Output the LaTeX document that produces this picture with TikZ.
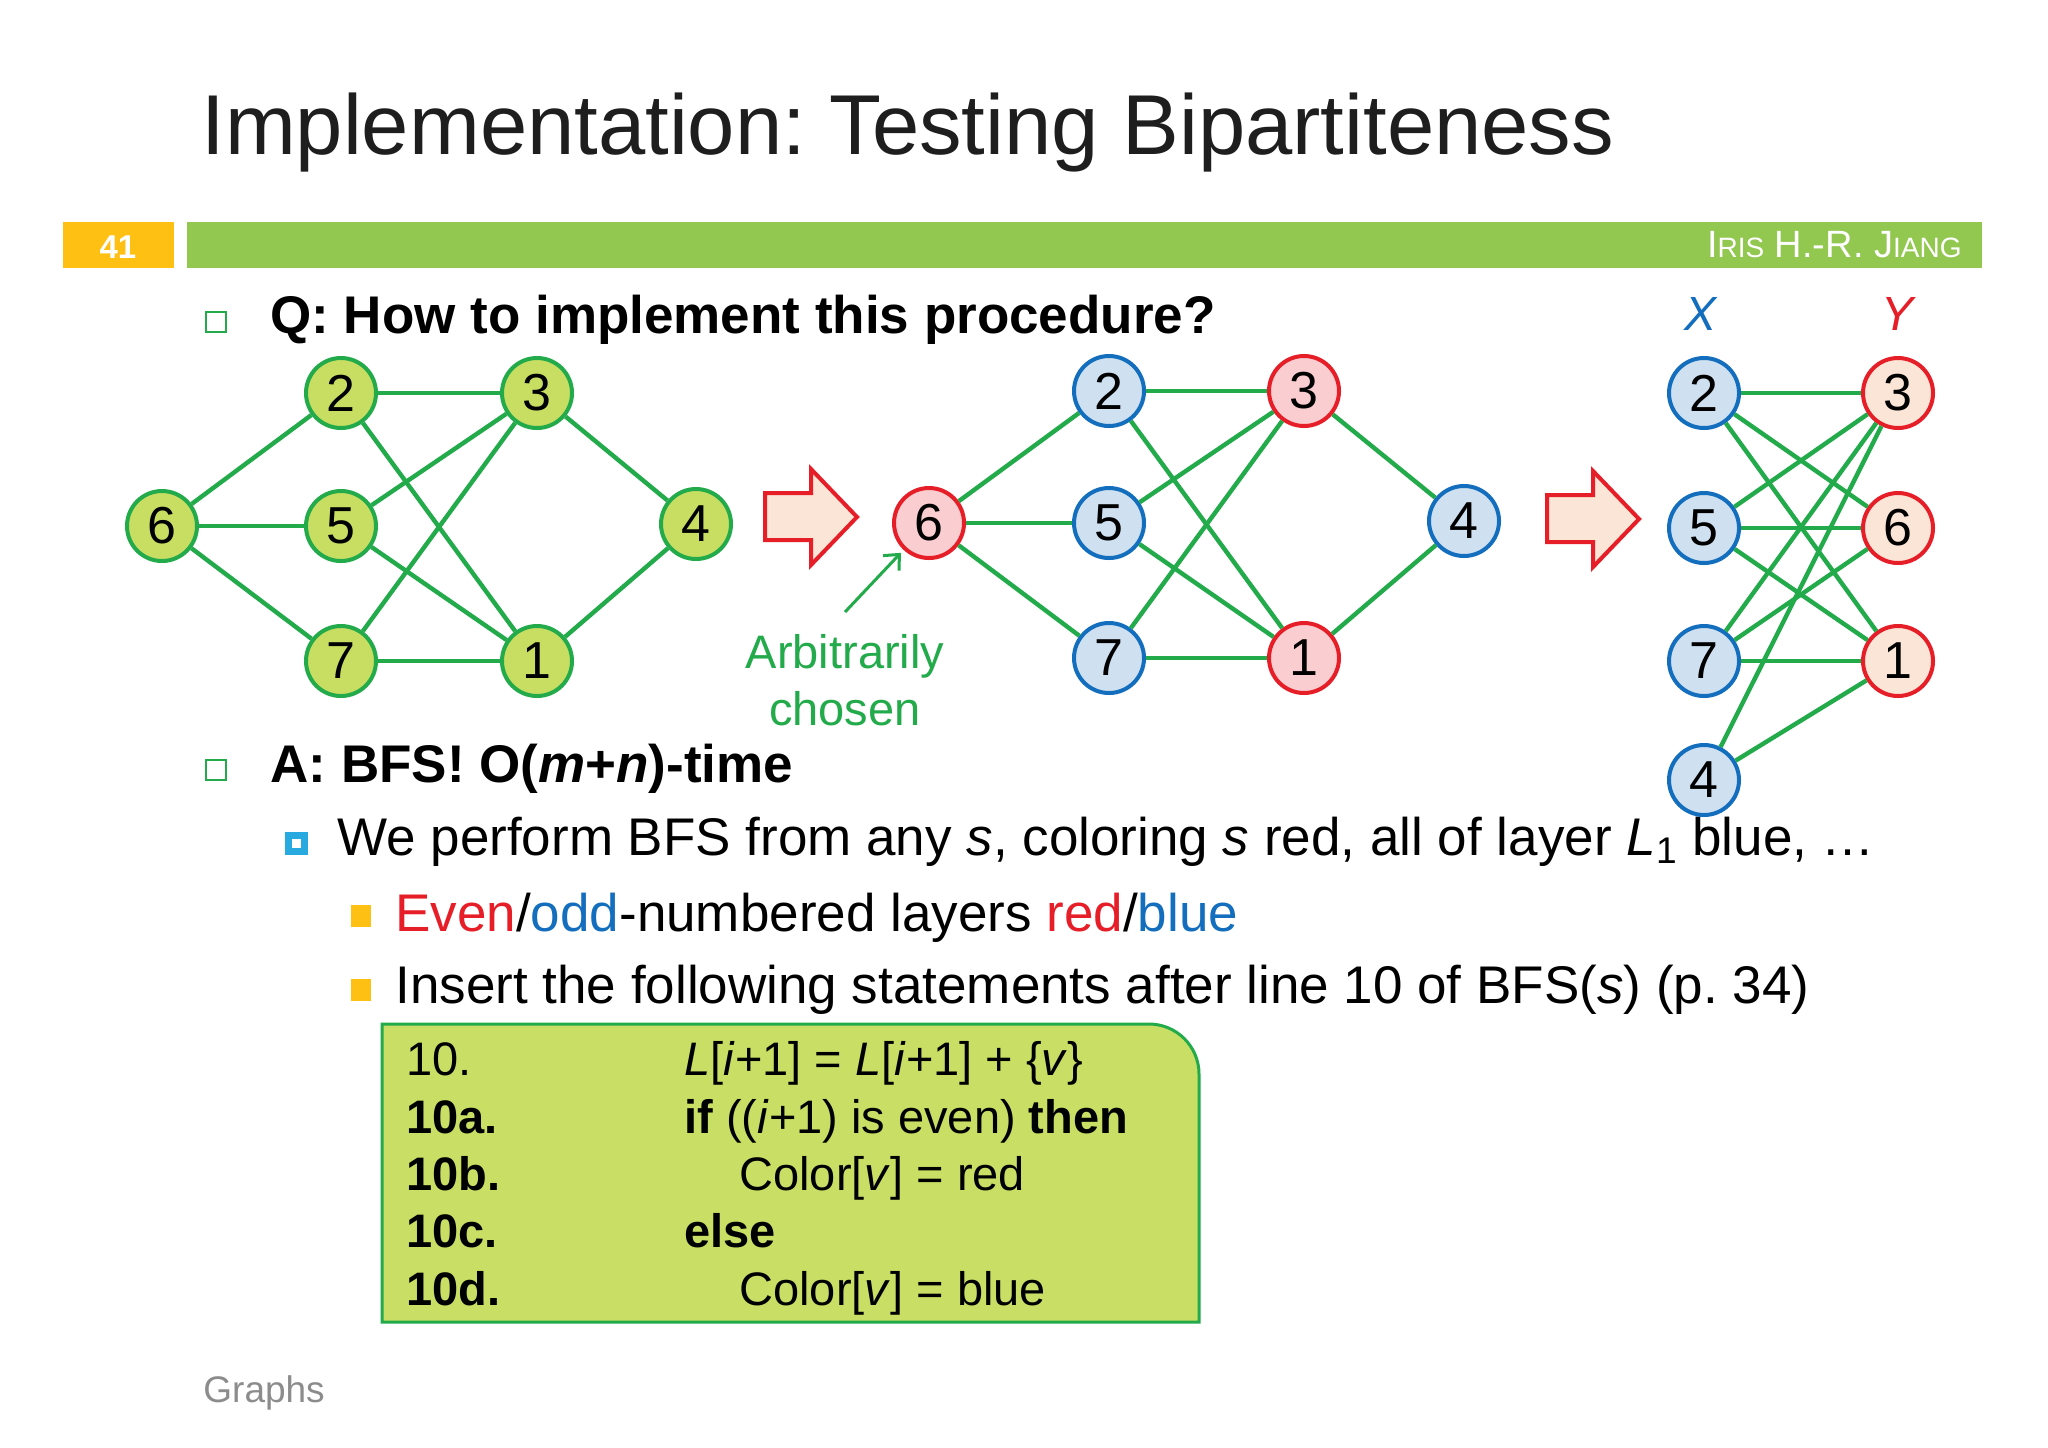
\documentclass[tikz,border=0pt]{standalone}
\usepackage{fontspec}
\setmainfont{Liberation Sans}
\usetikzlibrary{arrows.meta}
\frenchspacing

\definecolor{edgegreen}{RGB}{35,170,75}
\definecolor{limefill}{RGB}{200,222,98}
\definecolor{bluefill}{RGB}{207,224,240}
\definecolor{blueline}{RGB}{20,110,190}
\definecolor{pinkfill}{RGB}{250,205,208}
\definecolor{peachfill}{RGB}{251,229,214}
\definecolor{redline}{RGB}{230,30,40}
\definecolor{barorange}{RGB}{255,192,20}
\definecolor{bargreen}{RGB}{146,200,80}
\definecolor{bulletcyan}{RGB}{40,170,225}
\definecolor{codefill}{RGB}{200,222,100}
\definecolor{footgray}{RGB}{140,140,140}

\newcommand{\smc}[1]{{\fontsize{14}{16}\selectfont #1}}

\begin{document}
\begin{tikzpicture}[x=0.5pt,y=0.5pt,yscale=-1,xscale=1,
  vtx/.style={circle,minimum size=35pt,inner sep=0pt,line width=2pt,font=\fontsize{26}{30}\selectfont},
  limevtx/.style={vtx,draw=edgegreen,fill=limefill},
  bluevtx/.style={vtx,draw=blueline,fill=bluefill},
  redvtx/.style={vtx,draw=redline,fill=pinkfill},
  peachvtx/.style={vtx,draw=redline,fill=peachfill},
  edge/.style={draw=edgegreen,line width=2.2pt},
  bigarrow/.style={draw=redline,fill=peachfill,line width=2pt,line join=miter},
  body/.style={inner sep=0pt,anchor=base west,font=\fontsize{26.5}{32}\selectfont},
  codeline/.style={inner sep=0pt,anchor=base west,font=\fontsize{23.5}{28}\selectfont}]

%Background
\useasboundingbox (0,0) rectangle (2048,1447);
\fill[white] (0,0) rectangle (2048,1447);

%Header bar
\fill[barorange] (63,222) rectangle (174,268);
\fill[bargreen] (187,222) rectangle (1982,268);
\node (pagenum) [inner sep=0pt,anchor=base,text=white,font=\bfseries\fontsize{16.5}{20}\selectfont] at (118,258) {41};
\node (author) [inner sep=0pt,anchor=base east,text=white,font=\fontsize{19}{22}\selectfont] at (1962,257) {I\smc{RIS} H.-R. J\smc{IANG}};

% Title
\node (title) [inner sep=0pt,anchor=base west,font=\fontsize{42.5}{50}\selectfont,text={rgb,255:red,30;green,30;blue,30}] at (201,154) {Implementation: Testing Bipartiteness};

% Question / answer
\draw[edgegreen,line width=1pt] (206,312) rectangle (226,332);
\node (question) [body] at (270,333) {\textbf{Q: How to implement this procedure?}};
\draw[edgegreen,line width=1pt] (206,760) rectangle (226,780);
\node (answer) [body] at (270,782) {\textbf{A: BFS! O(\textit{m}+\textit{n})-time}};

% Sub bullets
\draw[bulletcyan,line width=3.5pt] (288,835) rectangle (304,851);
\node (layers) [body] at (337,855) {We perform BFS from any \textit{s}, coloring \textit{s} red, all of layer \textit{L}\textsubscript{1} blue, …};
\fill[barorange] (351,905) rectangle (371,927);
\node (evenodd) [body] at (395,931) {\textcolor{redline}{Even}/\textcolor{blueline}{odd}-numbered layers \textcolor{redline}{red}/\textcolor{blueline}{blue}};
\fill[barorange] (351,979) rectangle (371,1001);
\node (insert) [body] at (395,1003) {Insert the following statements after line 10 of BFS(\textit{s}) (p.~34)};

% Code box
\draw[edgegreen,fill=codefill,line width=1.5pt] (382,1322) -- (382,1024) [rounded corners=25pt] -- (1199,1024) [sharp corners] -- (1199,1322) -- cycle;
\node (ln10) [codeline] at (406,1075) {10.};
\node (ln10a) [codeline] at (406,1133) {\textbf{10a.}};
\node (ln10b) [codeline] at (406,1190) {\textbf{10b.}};
\node (ln10c) [codeline] at (406,1247) {\textbf{10c.}};
\node (ln10d) [codeline] at (406,1305) {\textbf{10d.}};
\node (st10) [codeline] at (684,1075) {\textit{L}[\textit{i}+1] = \textit{L}[\textit{i}+1] + \{\textit{v}\}};
\node (st10a) [codeline] at (684,1133) {\textbf{if} ((\textit{i}+1) is even) \textbf{then}};
\node (st10b) [codeline] at (739,1190) {Color[\textit{v}] = red};
\node (st10c) [codeline] at (684,1247) {\textbf{else}};
\node (st10d) [codeline] at (739,1305) {Color[\textit{v}] = blue};

% Left graph
\node (l6) [limevtx] at (162,526) {6};
\node (l2) [limevtx] at (341,393) {2};
\node (l5) [limevtx] at (341,526) {5};
\node (l7) [limevtx] at (341,661) {7};
\node (l3) [limevtx] at (537,393) {3};
\node (l1) [limevtx] at (537,661) {1};
\node (l4) [limevtx] at (696,524) {4};

% Middle graph
\node (m6) [redvtx] at (929,523) {6};
\node (m2) [bluevtx] at (1109,391) {2};
\node (m5) [bluevtx] at (1109,523) {5};
\node (m7) [bluevtx] at (1109,658) {7};
\node (m3) [redvtx] at (1304,391) {3};
\node (m1) [redvtx] at (1304,658) {1};
\node (m4) [bluevtx] at (1464,521) {4};

% Right graph
\node (r2) [bluevtx] at (1704,393) {2};
\node (r5) [bluevtx] at (1704,528) {5};
\node (r7) [bluevtx] at (1704,661) {7};
\node (r4) [bluevtx] at (1704,780) {4};
\node (r3) [peachvtx] at (1898,393) {3};
\node (r6) [peachvtx] at (1898,528) {6};
\node (r1) [peachvtx] at (1898,661) {1};
\node (setX) [inner sep=0pt,anchor=base,text=blueline,font=\itshape\fontsize{24}{28}\selectfont] at (1700,330) {X};
\node (setY) [inner sep=0pt,anchor=base,text=redline,font=\itshape\fontsize{24}{28}\selectfont] at (1897,330) {Y};

% Edges
\foreach \g in {l,m,r}
  \foreach \u/\v in {6/2,6/5,6/7,2/3,2/1,5/3,5/1,7/3,7/1,3/4,4/1}
    \draw[edge] (\g\u) -- (\g\v);

% Big arrows
\foreach \dx/\dy in {0/0,782/2}
  \draw[bigarrow,shift={(\dx,\dy)}] (765,493) -- (811,493) -- (811,469) -- (857,517) -- (811,565) -- (811,540) -- (765,540) -- cycle;

% Start vertex note
\node (arb) [inner sep=0pt,anchor=base,align=center,text=edgegreen,font=\fontsize{23.5}{28.5}\selectfont] at (845,725) {Arbitrarily\\chosen};
\coordinate (arbtail) at (845,612);
\draw[edgegreen,line width=1.5pt,-{Straight Barb[length=6pt,width=11pt]},shorten >=2pt] (arbtail) -- (m6);

% Footer
\node (footer) [inner sep=0pt,anchor=base west,text=footgray,font=\fontsize{18.5}{22}\selectfont] at (203,1402) {Graphs};

\end{tikzpicture}
\end{document}
